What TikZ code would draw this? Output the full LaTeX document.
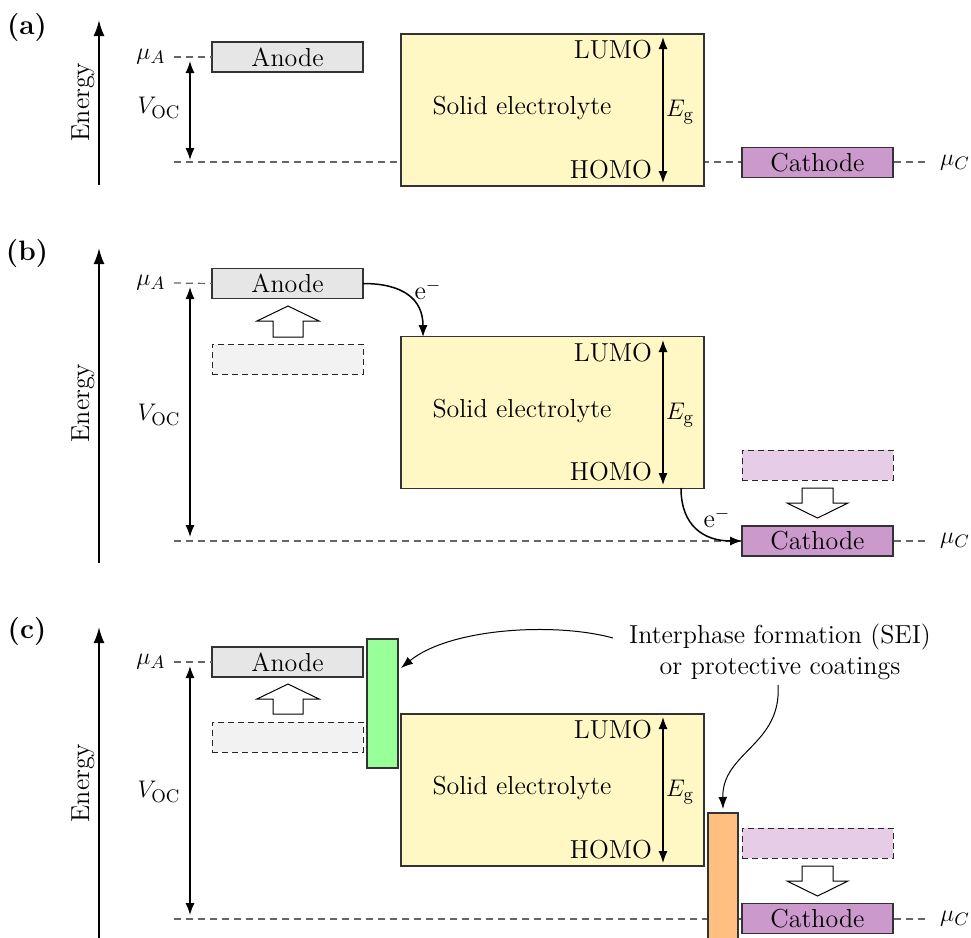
\documentclass[tikz,border=0pt]{standalone}
\usepackage{amsmath}
\usetikzlibrary{arrows.meta}
\definecolor{anodefill}{HTML}{E6E6E6}
\definecolor{ghostafill}{HTML}{F2F2F2}
\definecolor{cathfill}{HTML}{CC99CC}
\definecolor{ghostcfill}{HTML}{E6CCE6}
\definecolor{elfill}{HTML}{FFF8C4}
\definecolor{seigreen}{HTML}{99FF99}
\definecolor{seiorange}{HTML}{FFBF80}
\tikzset{
  box/.style={draw=black!80, line width=0.75pt, inner sep=0pt, outer sep=0pt},
  band/.style={box, minimum width=75.5pt, minimum height=15pt},
  anodebox/.style={band, fill=anodefill},
  cathbox/.style={band, fill=cathfill},
  ghostanode/.style={band, draw=black!85, line width=0.5pt, dash pattern=on 3pt off 2pt, fill=ghostafill},
  ghostcath/.style={band, draw=black!85, line width=0.5pt, dash pattern=on 3pt off 2pt, fill=ghostcfill},
  electro/.style={box, fill=elfill, minimum width=151.5pt, minimum height=76pt},
  level/.style={draw=black!60, line width=0.6pt, dash pattern=on 3.5pt off 2.5pt},
  axisarrow/.style={line width=1pt, -{Latex[length=8pt,width=5.5pt]}},
  dblarrow/.style={line width=0.75pt, {Latex[length=6pt,width=4.6pt]}-{Latex[length=6pt,width=4.6pt]}},
  eflow/.style={line width=0.75pt, -{Latex[length=6pt,width=4.6pt]}},
  thinflow/.style={line width=0.5pt, -{Latex[length=6pt,width=4.4pt]}},
  hollow/.style={draw=black, line width=0.5pt, fill=white},
  plabel/.style={font=\fontsize{14}{16}\selectfont\bfseries},
  txt/.style={inner sep=0pt, outer sep=0pt},
}
\begin{document}
\begin{tikzpicture}[x=0.5pt,y=-0.5pt,font=\fontsize{13}{15}\selectfont]
\useasboundingbox (0,0) rectangle (971,938);

% ================= Panel (a) =================
\node[plabel] (la) at (27,28) {(a)};
\coordinate (axa0) at (99,185);
\coordinate (axa1) at (99,20);
\draw[axisarrow] (axa0) -- (axa1);
\node[rotate=90] (ena) at (83,102) {Energy};
\node (mua) at (151,57) {$\mu_A$};
\node (vocA) at (159,108) {$V_{\textrm{OC}}$};
\node (muca) at (955,163) {$\mu_C$};
\coordinate (dla0) at (174,57);
\coordinate (dlb0) at (174,162);
\coordinate (dlb1) at (925,162);
\draw[level] (dlb0) -- (dlb1);
\node[anodebox] (anA) at (287.5,57) {Anode};
\draw[level] (dla0) -- (anA.west);
\node[electro] (elA) at (552.5,110) {};
\node (seA) at (522,108) {Solid electrolyte};
\node[txt, anchor=east] (luA) at (652,50) {LUMO};
\node[txt, anchor=east] (hoA) at (652,170) {HOMO};
\coordinate (ega0) at (663,37);
\coordinate (ega1) at (663,183);
\draw[dblarrow] (ega0) -- (ega1);
\node (egA) at (680,112) {$E_{\textrm{g}}$};
\node[cathbox] (caA) at (817.5,162.5) {Cathode};
\coordinate (vaa0) at (190,61);
\coordinate (vaa1) at (190,160);
\draw[dblarrow] (vaa0) -- (vaa1);

% ================= Panel (b) =================
\node[plabel] (lb) at (27,254) {(b)};
\coordinate (axb0) at (99,563);
\coordinate (axb1) at (99,248);
\draw[axisarrow] (axb0) -- (axb1);
\node[rotate=90] (enb) at (83,403) {Energy};
\node (mub) at (151,283) {$\mu_A$};
\node (vocB) at (159,415) {$V_{\textrm{OC}}$};
\node (mucb) at (955,541) {$\mu_C$};
\coordinate (dbb0) at (174,541);
\coordinate (dbb1) at (925,541);
\draw[level] (dbb0) -- (dbb1);
\coordinate (dba0) at (174,283);
\node[anodebox] (anB) at (287.5,283.5) {Anode};
\draw[level] (dba0) -- (anB.west);
\node[ghostanode] (gaB) at (287.5,359) {};
\draw[hollow] (273,337) -- (273,321) -- (257,321) -- (288,306) -- (319,321) -- (303,321) -- (303,337) -- cycle;
\node[electro] (elB) at (552.5,412.5) {};
\node (seB) at (522,411) {Solid electrolyte};
\node[txt, anchor=east] (luB) at (652,353) {LUMO};
\node[txt, anchor=east] (hoB) at (652,472) {HOMO};
\coordinate (egb0) at (663,340);
\coordinate (egb1) at (663,485);
\draw[dblarrow] (egb0) -- (egb1);
\node (egB) at (680,415) {$E_{\textrm{g}}$};
\node[ghostcath] (gcB) at (817.5,465) {};
\draw[hollow] (802,488) -- (802,503) -- (787,503) -- (817.5,518) -- (848,503) -- (833,503) -- (833,488) -- cycle;
\node[cathbox] (caB) at (817.5,541) {Cathode};
\coordinate (vab0) at (190,287);
\coordinate (vab1) at (190,537);
\draw[dblarrow] (vab0) -- (vab1);
\coordinate (eb1) at (423,337);
\draw[eflow] (anB.east) .. controls +(40,0) and +(0,-38) .. (eb1);
\node (emB1) at (428,290) {e$^-$};
\coordinate (eb2) at (681,488);
\draw[eflow] (eb2) .. controls +(0,38) and +(-38,0) .. (caB.west);
\node (emB2) at (717,518) {e$^-$};

% ================= Panel (c) =================
\node[plabel] (lc) at (27,632) {(c)};
\coordinate (axc0) at (99,940);
\coordinate (axc1) at (99,627);
\draw[axisarrow] (axc0) -- (axc1);
\node[rotate=90] (enc) at (83,783) {Energy};
\node (muc) at (151,662) {$\mu_A$};
\node (vocC) at (159,792) {$V_{\textrm{OC}}$};
\node (mucc) at (955,919) {$\mu_C$};
\coordinate (dcb0) at (174,919);
\coordinate (dcb1) at (925,919);
\draw[level] (dcb0) -- (dcb1);
\coordinate (dca0) at (174,662);
\node[anodebox] (anC) at (287.5,662) {Anode};
\draw[level] (dca0) -- (anC.west);
\node[ghostanode] (gaC) at (287.5,737) {};
\draw[hollow] (273,714) -- (273,699) -- (257,699) -- (288,684) -- (319,699) -- (303,699) -- (303,714) -- cycle;
\node[box, fill=seigreen, minimum width=15.5pt, minimum height=64.5pt] (grC) at (382.5,703.5) {};
\node[electro] (elC) at (552.5,790) {};
\node (seC) at (522,788) {Solid electrolyte};
\node[txt, anchor=east] (luC) at (652,730) {LUMO};
\node[txt, anchor=east] (hoC) at (652,850) {HOMO};
\coordinate (egc0) at (663,717);
\coordinate (egc1) at (663,863);
\draw[dblarrow] (egc0) -- (egc1);
\node (egC) at (680,792) {$E_{\textrm{g}}$};
\node[box, fill=seiorange, minimum width=15pt, minimum height=75pt] (orC) at (723,888) {};
\node[ghostcath] (gcC) at (817.5,843) {};
\draw[hollow] (802,866) -- (802,881) -- (787,881) -- (817.5,896) -- (848,881) -- (833,881) -- (833,866) -- cycle;
\node[cathbox] (caC) at (817.5,918.5) {Cathode};
\coordinate (vac0) at (190,666);
\coordinate (vac1) at (190,915);
\draw[dblarrow] (vac0) -- (vac1);
\node[align=center, font=\fontsize{13}{15.5}\selectfont] (sei) at (780,652) {Interphase formation (SEI)\\or protective coatings};
\coordinate (s1) at (613,638);
\coordinate (g1) at (401,668);
\draw[thinflow] (s1) .. controls (555,622) and (450,628) .. (g1);
\coordinate (s2) at (778,685);
\coordinate (o1) at (723,809);
\draw[thinflow] (s2) .. controls (782,745) and (722,752) .. (o1);
\end{tikzpicture}
\end{document}
